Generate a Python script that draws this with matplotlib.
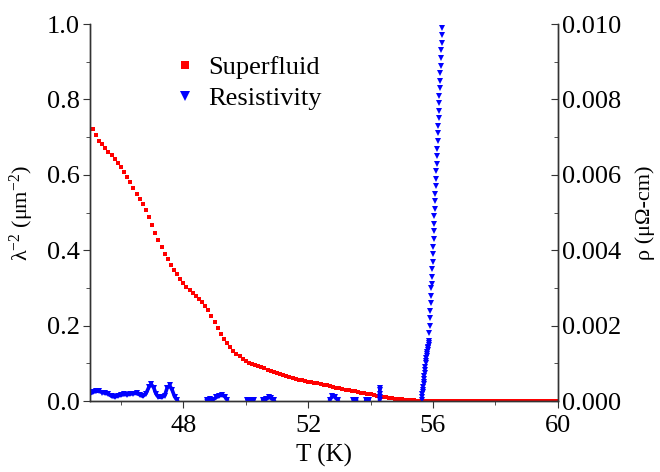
import matplotlib
matplotlib.use('Agg')
import numpy as np
import matplotlib.pyplot as plt
from matplotlib.ticker import MultipleLocator, FormatStrFormatter
from matplotlib.lines import Line2D

plt.rcParams['font.family'] = ['Liberation Serif', 'DejaVu Serif']
plt.rcParams['mathtext.fontset'] = 'custom'
plt.rcParams['mathtext.rm'] = 'Liberation Serif'
plt.rcParams['mathtext.it'] = 'Liberation Serif:italic'

# superfluid density (lambda^-2, um^-2), sampled every 0.1 K from 45.1 K
T_sf = np.round(np.arange(45.1, 60.05, 0.1), 2)
lam_sf = [
    0.722, 0.705, 0.690, 0.681, 0.672, 0.662, 0.654, 0.642, 0.631, 0.620,
    0.607, 0.594, 0.581, 0.566, 0.550, 0.536, 0.522, 0.508, 0.489, 0.468,
    0.447, 0.427, 0.408, 0.391, 0.376, 0.362, 0.349, 0.337, 0.325, 0.314,
    0.304, 0.295, 0.287, 0.279, 0.271, 0.262, 0.253, 0.242, 0.226, 0.209,
    0.193, 0.178, 0.165, 0.153, 0.143, 0.134, 0.126, 0.119, 0.112, 0.106,
    0.101, 0.098, 0.095, 0.093, 0.090, 0.087, 0.084, 0.081, 0.078, 0.075,
    0.072, 0.069, 0.066, 0.063, 0.061, 0.059, 0.057, 0.055, 0.053, 0.052,
    0.050, 0.049, 0.047, 0.046, 0.044, 0.042, 0.040, 0.038, 0.036, 0.034,
    0.032, 0.031, 0.029, 0.027, 0.026, 0.024, 0.023, 0.021, 0.020, 0.018,
    0.016, 0.015, 0.013, 0.012, 0.010, 0.009, 0.008, 0.007, 0.006, 0.005,
    0.004, 0.003, 0.0025, 0.002, 0.0015, 0.001, 0.0005, 0.0,
    0.0, 0.0, 0.0, 0.0, 0.0, 0.0, 0.0, 0.0, 0.0, 0.0,
    0.0, 0.0, 0.0, 0.0, 0.0, 0.0, 0.0, 0.0, 0.0, 0.0,
    0.0, 0.0, 0.0, 0.0, 0.0, 0.0, 0.0, 0.0, 0.0, 0.0,
    0.0, 0.0, 0.0, 0.0, 0.0, 0.0, 0.0, 0.0, 0.0, 0.0,
    0.0, 0.0,
]

# resistivity (uOhm-cm) in the superconducting state; nan = gap (readings below zero)
T_res_low = [
    45.02, 45.1, 45.2, 45.3, 45.4, 45.5, 45.6, 45.7, 45.8, 45.9,
    46.0, 46.1, 46.2, 46.3, 46.4, 46.5, 46.6, 46.7, 46.8, 46.9,
    46.97, 47.05, 47.12, 47.2, 47.3, 47.4, 47.48, 47.56, 47.64, 47.72,
    47.8, 48.2,
    48.75, 48.85, 48.95, 49.05, 49.15, 49.25, 49.33, 49.4, 49.7,
    50.05, 50.15, 50.25, 50.4,
    50.55, 50.65, 50.75, 50.82, 50.9, 51.5,
    52.7, 52.78, 52.87, 52.95, 53.2,
    53.45, 53.55, 53.7,
    53.85, 53.95, 54.1,
    54.29, 54.29, 54.29, 54.3, 54.3,
]
rho_low = [
    0.00020, 0.00024, 0.00026, 0.00027, 0.00023, 0.00021, 0.00019, 0.00013, 0.00011, 0.00014,
    0.00016, 0.00018, 0.00017, 0.00019, 0.00020, 0.00021, 0.00017, 0.00013, 0.00020, 0.00038,
    0.00045, 0.00036, 0.00020, 0.00011, 0.00010, 0.00015, 0.00035, 0.00042, 0.00030, 0.00012,
    0.00003, np.nan,
    0.00003, 0.00006, 0.00004, 0.00010, 0.00014, 0.00017, 0.00012, 0.00004, np.nan,
    0.00002, 0.00004, 0.00002, np.nan,
    0.00003, 0.00005, 0.00011, 0.00008, 0.00002, np.nan,
    0.00004, 0.00014, 0.00010, 0.00003, np.nan,
    0.00002, 0.00003, np.nan,
    0.00004, 0.00003, np.nan,
    0.00002, 0.00010, 0.00020, 0.00030, 0.00035,
]
# resistivity through the transition, every 0.01 K
T_res_rise = np.round(np.arange(55.64, 56.305, 0.01), 2)
rho_rise = [
    0.00002, 0.00012, 0.0002, 0.00025, 0.0003, 0.00038, 0.00045, 0.00052, 0.0006, 0.00068,
    0.00076, 0.00084, 0.00092, 0.0010, 0.00107, 0.00114, 0.0012, 0.00125, 0.0013, 0.00135,
    0.0014, 0.00145, 0.0015, 0.00155, 0.0016, 0.0018, 0.0020, 0.0022, 0.0024, 0.0026,
    0.0028, 0.0030, 0.0031, 0.0033, 0.0035, 0.0037, 0.0039, 0.0041, 0.0043, 0.0045,
    0.0047, 0.0049, 0.0051, 0.0053, 0.0055, 0.0057, 0.0059, 0.0061, 0.0063, 0.0065,
    0.0067, 0.0069, 0.0071, 0.0073, 0.0075, 0.0077, 0.0079, 0.0081, 0.0083, 0.0085,
    0.0087, 0.0089, 0.0091, 0.0093, 0.0095, 0.0097, 0.0099,
]

red = '#ff0000'
blue = '#0000ff'

fig = plt.figure(figsize=(6.6, 4.72), dpi=100)
ax = fig.add_subplot(111)
fig.subplots_adjust(left=0.136, right=0.845, top=0.949, bottom=0.150)
ax2 = ax.twinx()

ax.plot(T_sf, lam_sf, 's', color=red, markersize=3.5, markeredgewidth=0)
ax2.plot(T_res_low, rho_low, 'v', color=blue, markersize=4.0, markeredgewidth=0,
         linestyle='-', linewidth=2.6)
ax2.plot(T_res_rise, rho_rise, 'v', color=blue, markersize=5.0, markeredgewidth=0)

ax.set_xlim(45, 60)
ax.set_ylim(0, 1.0)
ax2.set_ylim(0, 0.010)

ax.set_xticks([48, 52, 56, 60])
ax.xaxis.set_minor_locator(MultipleLocator(2))
ax.yaxis.set_major_locator(MultipleLocator(0.2))
ax.yaxis.set_minor_locator(MultipleLocator(0.1))
ax2.yaxis.set_major_locator(MultipleLocator(0.002))
ax2.yaxis.set_minor_locator(MultipleLocator(0.001))
ax.yaxis.set_major_formatter(FormatStrFormatter('%.1f'))
ax2.yaxis.set_major_formatter(FormatStrFormatter('%.3f'))

for a in (ax, ax2):
    a.spines['top'].set_visible(False)
    for s in a.spines.values():
        s.set_linewidth(1.0)
        s.set_color('#333333')

ax.tick_params(axis='both', which='both', direction='out', labelsize=19, color='#333333')
ax.tick_params(which='major', length=5)
ax.tick_params(which='minor', length=3)
ax.tick_params(axis='x', pad=5)
ax.tick_params(axis='y', right=False, pad=2)
ax2.tick_params(axis='y', which='both', direction='in', labelsize=19, color='#333333', pad=3)
ax2.tick_params(which='major', length=5)
ax2.tick_params(which='minor', length=3)

ax.set_xlabel('T (K)', fontsize=18, labelpad=5)
ax.set_ylabel(r'λ$^{\mathregular{-2}}$ (μm$^{\mathregular{-2}}$)', fontsize=16, labelpad=8)
ax2.set_ylabel('ρ (μΩ-cm)', fontsize=16, labelpad=10)

handles = [
    Line2D([], [], marker='s', color=red, linestyle='none', markersize=6, markeredgewidth=0),
    Line2D([], [], marker='v', color=blue, linestyle='none', markersize=7, markeredgewidth=0),
]
ax.legend(handles, ['Superfluid', 'Resistivity'], loc='upper left',
          bbox_to_anchor=(0.158, 0.945), frameon=False, fontsize=19,
          handlelength=0.8, handletextpad=0.5, labelspacing=0.3, borderaxespad=0)

fig.savefig('out.png', dpi=100)
